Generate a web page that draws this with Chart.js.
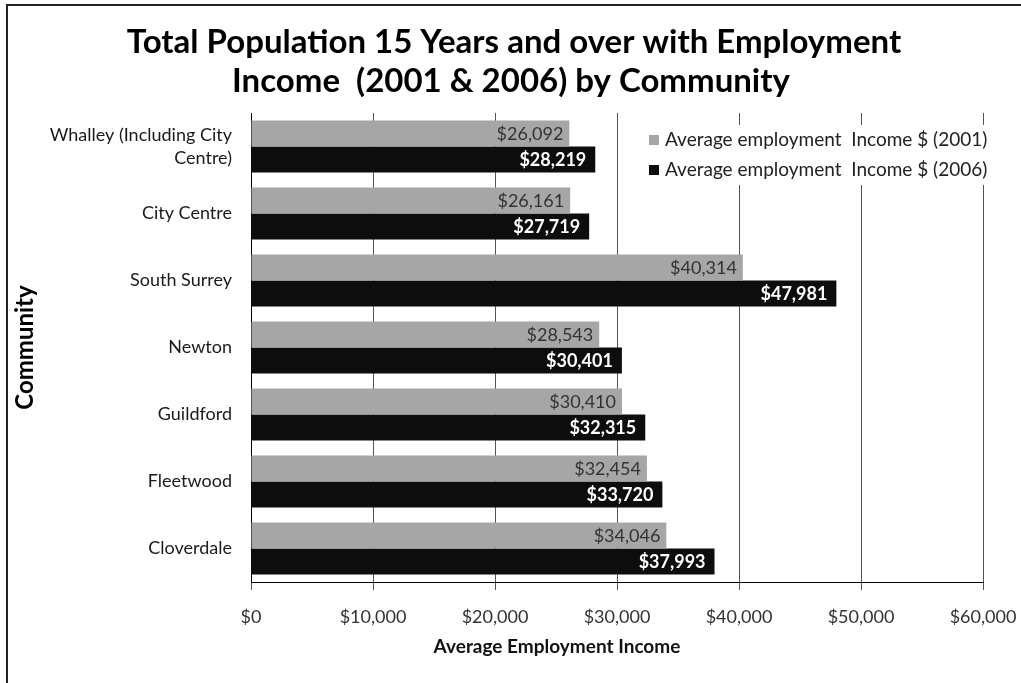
<!DOCTYPE html>
<html>
<head>
<meta charset="utf-8">
<script src="https://cdn.jsdelivr.net/npm/chart.js@4"></script>
<style>
  html, body { margin: 0; padding: 0; background: #fff; }
  #wrap { width: 1021px; height: 683px; }
</style>
</head>
<body>
<div id="wrap"><canvas id="incomeChart" width="1021" height="683"></canvas></div>
<script>
// Average employment income by community, 2001 vs 2006
const communities = [
    ['Whalley (Including City', 'Centre)'],
    'City Centre',
    'South Surrey',
    'Newton',
    'Guildford',
    'Fleetwood',
    'Cloverdale'
];
const income2001 = [26092, 26161, 40314, 28543, 30410, 32454, 34046];
const income2006 = [28219, 27719, 47981, 30401, 32315, 33720, 37993];
const seriesLabels = ['Average employment  Income $ (2001)', 'Average employment  Income $ (2006)'];
const seriesColors = ['#a6a6a6', '#0d0d0d'];
const titleLines = ['Total Population 15 Years and over with Employment', 'Income  (2001 & 2006) by Community'];

const FONT = 'Lato, "Open Sans", sans-serif';
const money = v => '$' + v.toLocaleString('en-US');

// thin frame along the top and left edges, plus the two-line heading
const framePlugin = {
    id: 'frame',
    beforeDraw(chart) {
        const ctx = chart.ctx;
        ctx.save();
        ctx.strokeStyle = '#222';
        ctx.lineWidth = 2;
        ctx.strokeRect(7, 5, 1200, 1200);
        ctx.fillStyle = '#000';
        ctx.font = 'bold 33px ' + FONT;
        ctx.textAlign = 'center';
        ctx.textBaseline = 'middle';
        ctx.fillText(titleLines[0], 514, 42);
        ctx.fillText(titleLines[1], 511, 81);
        ctx.restore();
    }
};

// value labels at the inside end of each bar
const valueLabels = {
    id: 'valueLabels',
    afterDatasetsDraw(chart) {
        const ctx = chart.ctx;
        ctx.save();
        ctx.textAlign = 'right';
        ctx.textBaseline = 'middle';
        chart.data.datasets.forEach((ds, di) => {
            const meta = chart.getDatasetMeta(di);
            ctx.font = (di === 1 ? 'bold ' : '') + '18px ' + FONT;
            ctx.fillStyle = di === 1 ? '#ffffff' : '#333333';
            meta.data.forEach((bar, i) => {
                ctx.fillText(money(ds.data[i]), bar.x - (di === 1 ? 9 : 6), bar.y + 1);
            });
        });
        ctx.restore();
    }
};

// legend box sitting inside the plot, top right
const innerLegend = {
    id: 'innerLegend',
    afterDatasetsDraw(chart) {
        const ctx = chart.ctx;
        const area = chart.chartArea;
        const x = area.right - 343, y = area.top + 12;
        ctx.save();
        ctx.fillStyle = '#fff';
        ctx.fillRect(x, y, 352, 60);
        ctx.font = '19px ' + FONT;
        ctx.textBaseline = 'middle';
        ctx.textAlign = 'left';
        chart.data.datasets.forEach((ds, i) => {
            const cy = y + 15 + i * 30;
            ctx.fillStyle = ds.backgroundColor;
            ctx.fillRect(x + 9, cy - 5, 10, 10);
            ctx.fillStyle = '#222';
            ctx.fillText(ds.label, x + 25, cy);
        });
        ctx.restore();
    }
};

// x axis title, set left of the plot centre
const xTitle = {
    id: 'xTitle',
    afterDraw(chart) {
        const ctx = chart.ctx;
        const area = chart.chartArea;
        ctx.save();
        ctx.font = 'bold 19px ' + FONT;
        ctx.fillStyle = '#111';
        ctx.textAlign = 'center';
        ctx.textBaseline = 'middle';
        ctx.fillText('Average Employment Income', area.left + (area.right - area.left) * 0.418, 647);
        ctx.restore();
    }
};

const ctx = document.getElementById('incomeChart').getContext('2d');
new Chart(ctx, {
    type: 'bar',
    data: {
        labels: communities,
        datasets: [{
            label: seriesLabels[0],
            data: income2001,
            backgroundColor: seriesColors[0]
        }, {
            label: seriesLabels[1],
            data: income2006,
            backgroundColor: seriesColors[1]
        }]
    },
    options: {
        indexAxis: 'y',
        responsive: false,
        animation: false,
        layout: { padding: { left: 0, right: 38, top: 113, bottom: 0 } },
        datasets: {
            bar: { categoryPercentage: 0.776, barPercentage: 1.0 }
        },
        plugins: {
            legend: { display: false },
            tooltip: { enabled: false },
            title: { display: false }
        },
        scales: {
            x: {
                min: 0,
                max: 60000,
                ticks: {
                    stepSize: 10000,
                    callback: v => money(v),
                    color: '#333',
                    font: { family: FONT, size: 18 },
                    padding: 16,
                    maxRotation: 0
                },
                grid: { color: '#555', lineWidth: 1, tickLength: 8 },
                border: { color: '#000', width: 1 },
                afterFit: scale => {
                    scale.height = 101;
                    scale.paddingLeft = 0;
                    scale.paddingRight = 0;
                }
            },
            y: {
                ticks: {
                    color: '#1a1a1a',
                    font: { family: FONT, size: 18, lineHeight: 1.3 },
                    padding: 19
                },
                grid: { display: false, drawTicks: false },
                border: { display: true, color: '#000', width: 1 },
                title: {
                    display: true,
                    text: 'Community',
                    color: '#000',
                    font: { family: FONT, size: 24, weight: 'bold' },
                    padding: { top: 11, bottom: 0 }
                },
                afterFit: scale => { scale.width = 251; }
            }
        }
    },
    plugins: [framePlugin, valueLabels, innerLegend, xTitle]
});
</script>
</body>
</html>
